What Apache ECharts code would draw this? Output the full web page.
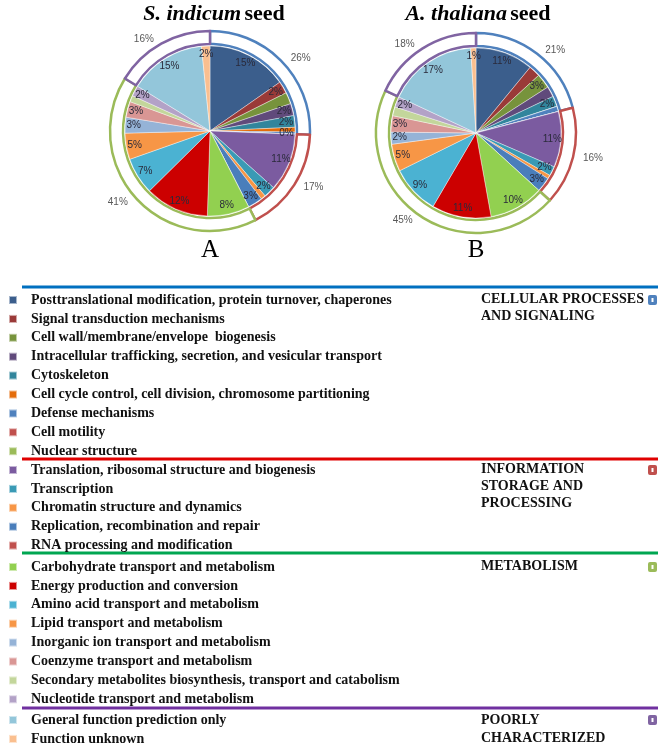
<!DOCTYPE html>
<html><head><meta charset="utf-8">
<script src="https://cdn.jsdelivr.net/npm/echarts@6/dist/echarts.min.js"></script>
<style>html,body{margin:0;padding:0;background:#fff}#c{width:672px;height:754px}</style>
</head><body><div id="c"></div>
<script>
const categories = [
  'Posttranslational modification, protein turnover, chaperones',
  'Signal transduction mechanisms',
  'Cell wall/membrane/envelope  biogenesis',
  'Intracellular trafficking, secretion, and vesicular transport',
  'Cytoskeleton',
  'Cell cycle control, cell division, chromosome partitioning',
  'Defense mechanisms',
  'Cell motility',
  'Nuclear structure',
  'Translation, ribosomal structure and biogenesis',
  'Transcription',
  'Chromatin structure and dynamics',
  'Replication, recombination and repair',
  'RNA processing and modification',
  'Carbohydrate transport and metabolism',
  'Energy production and conversion',
  'Amino acid transport and metabolism',
  'Lipid transport and metabolism',
  'Inorganic ion transport and metabolism',
  'Coenzyme transport and metabolism',
  'Secondary metabolites biosynthesis, transport and catabolism',
  'Nucleotide transport and metabolism',
  'General function prediction only',
  'Function unknown'
];
const groupNames = ['CELLULAR PROCESSES\nAND SIGNALING', 'INFORMATION\nSTORAGE AND\nPROCESSING', 'METABOLISM', 'POORLY\nCHARACTERIZED'];
const groupSizes = [9, 5, 8, 2];
// S. indicum seed (percent)
const sesameValues = [15.3, 2.3, 2.2, 2.3, 2.2, 0.9, 0.4, 0, 0,
  11.0, 2.2, 0.9, 2.8, 0,
  8.0, 12.1, 7.0, 5.0, 3.0, 3.0, 1.2, 2.0,
  14.6, 1.6];
// A. thaliana seed (percent)
const arabidopsisValues = [11.0, 2.2, 2.8, 2.0, 2.0, 0, 1.0, 0, 0,
  10.6, 1.8, 0.7, 2.8, 0,
  10.4, 11.3, 9.3, 5.2, 2.3, 3.1, 1.7, 2.0,
  17.1, 1.0];
const sliceColors = ['#3b5e8c', '#9a3a38', '#77933c', '#604a7b', '#31859c', '#e46c0a', '#4f81bd', '#c0504d', '#9bbb59',
  '#7b5ba0', '#3a9ab5', '#f79646', '#4a7ebb', '#c0504d',
  '#92d050', '#cc0000', '#4bb2d2', '#f79646', '#95b3d7', '#d99694', '#c3d69b', '#b3a2c7',
  '#93c6da', '#fabf8f'];
const ringColors = ['#4f81bd', '#c0504d', '#9bbb59', '#8064a2'];
const ruleColors = ['#0070c0', '#e00000', '#00a651', '#7030a0'];
const pieTitles = [['S. indicum', 'seed'], ['A. thaliana', 'seed']];
const panelLetters = ['A', 'B'];

function groupSums(vals) {
  const out = []; let i = 0;
  groupSizes.forEach(n => { let s = 0; for (let k = 0; k < n; k++) s += vals[i + k]; out.push(+s.toFixed(2)); i += n; });
  return out;
}
function pct(p) { return p.value === 0 ? '' : Math.round(p.percent) + '%'; }

const centers = [[210, 131], [476, 133]];
const allVals = [sesameValues, arabidopsisValues];
const series = [];
allVals.forEach((vals, k) => {
  series.push({
    type: 'pie', name: 'main' + k, center: centers[k], radius: [0, 85], startAngle: 90, clockwise: true,
    silent: true, z: 3, label: { show: false }, labelLine: { show: false },
    itemStyle: { borderColor: 'rgba(255,255,255,0.55)', borderWidth: 0.7 },
    data: categories.map((c, i) => ({ name: c, value: vals[i], itemStyle: { color: sliceColors[i] } }))
  });
});
allVals.forEach((vals, k) => {
  series.push({
    type: 'pie', name: 'ring' + k, center: centers[k], radius: [87, 100], startAngle: 90, clockwise: true,
    silent: true, z: 1,
    itemStyle: { color: '#ffffff' },
    label: { show: true, position: 'outside', formatter: pct, color: '#595959', fontSize: 10, fontFamily: 'Liberation Sans' },
    labelLine: { show: false, length: 5, length2: 0 },
    data: groupSums(vals).map((v, i) => ({ name: 'g' + i, value: v, itemStyle: { borderColor: ringColors[i], borderWidth: 2.5 } }))
  });
  series.push({
    type: 'pie', name: 'lab' + k, center: centers[k], radius: [62, 85], startAngle: 90, clockwise: true,
    silent: true, z: 4, itemStyle: { color: 'rgba(0,0,0,0)' },
    label: { show: true, position: 'inside', formatter: pct, color: '#2a2a3a', fontSize: 10, fontFamily: 'Liberation Sans' },
    labelLine: { show: false },
    data: categories.map((c, i) => ({ name: 'l' + i, value: vals[i] }))
  });
});

const legendTops = [293, 463, 560, 713];
const legends = [];
let st = 0;
groupSizes.forEach((n, g) => {
  legends.push({
    orient: 'vertical', left: 8, top: legendTops[g], padding: 0, itemGap: 4.9,
    itemWidth: 8, itemHeight: 8, icon: 'rect', selectedMode: false,
    textStyle: { fontFamily: 'Liberation Serif', fontWeight: 'bold', fontSize: 14, color: '#111', lineHeight: 14, padding: [0, 0, 0, 9] },
    data: categories.slice(st, st + n)
  });
  st += n;
});

const ruleYs = [287, 459, 553, 708];
const groupLabelTops = [291, 461, 558, 711];
const groupLineHeights = [17, 17, 17, 18];
const graphics = [];
pieTitles.forEach((t, k) => {
  graphics.push({ type: 'text', x: centers[k][0] + (k === 0 ? 4 : 2), y: 14, style: {
    text: '{i|' + t[0] + '} {n|' + t[1] + '}', align: 'center', verticalAlign: 'middle',
    rich: { i: { fontFamily: 'Liberation Serif', fontStyle: 'italic', fontWeight: 'bold', fontSize: 22, fill: '#000' },
            n: { fontFamily: 'Liberation Serif', fontWeight: 'bold', fontSize: 22, fill: '#000' } } } });
  graphics.push({ type: 'text', x: centers[k][0], y: 250, style: { text: panelLetters[k], align: 'center', verticalAlign: 'middle',
    font: '25px "Liberation Serif"', fill: '#000' } });
});
ruleYs.forEach((y, g) => {
  graphics.push({ type: 'line', shape: { x1: 22, y1: y, x2: 658, y2: y }, style: { stroke: ruleColors[g], lineWidth: 3 } });
  graphics.push({ type: 'text', x: 481, y: groupLabelTops[g], style: { text: groupNames[g], verticalAlign: 'top',
    font: 'bold 14px "Liberation Serif"', fill: '#111', lineHeight: groupLineHeights[g] } });
  graphics.push({ type: 'rect', shape: { x: 648, y: groupLabelTops[g] + 4, width: 9, height: 10, r: 2 }, style: { fill: ringColors[g] } });
  graphics.push({ type: 'rect', shape: { x: 651.5, y: groupLabelTops[g] + 7, width: 2, height: 4 }, style: { fill: '#fff' } });
});

const chart = echarts.init(document.getElementById('c'), null, { renderer: 'canvas' });
chart.setOption({ animation: false, backgroundColor: '#fff', legend: legends, series: series, graphic: graphics });
</script></body></html>
